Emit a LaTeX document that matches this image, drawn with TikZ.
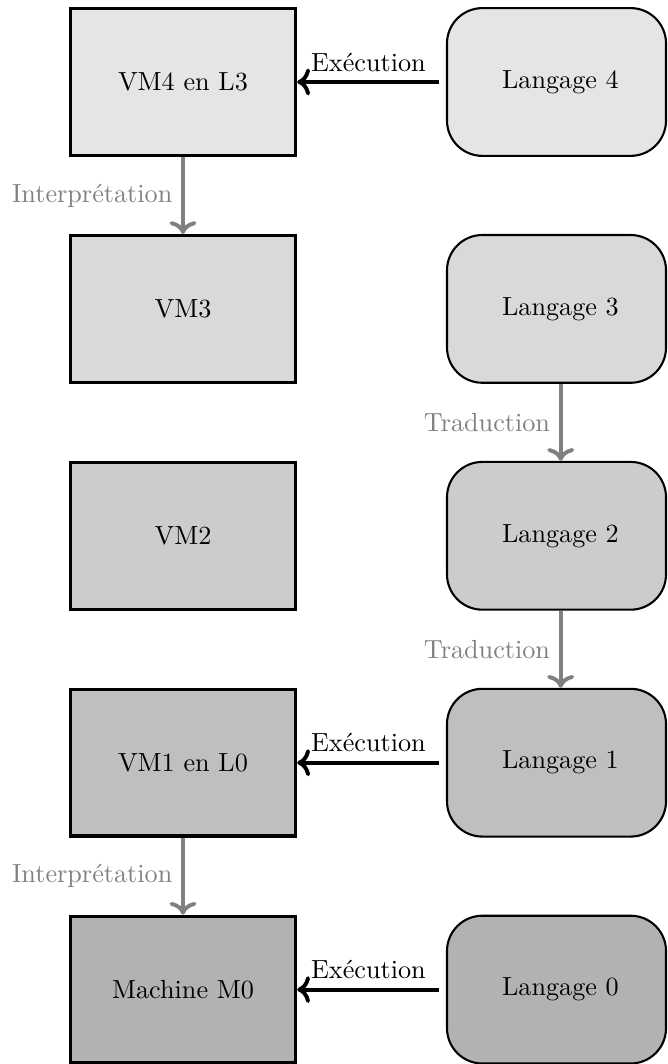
\documentclass[tikz,border=0pt]{standalone}
\usetikzlibrary{arrows.meta}
\begin{document}
\begin{tikzpicture}[x=0.38168pt, y=-0.38168pt,
  vmbox/.style={draw, line width=1.2pt, minimum width=86pt, minimum height=56pt, inner sep=0pt},
  langbox/.style={draw, line width=0.8pt, rounded corners=13.5pt, minimum width=83.6pt,
    minimum height=56.4pt, inner sep=0pt, execute at begin node=\hspace*{3pt}},
  exec/.style={->, line width=1.5pt, shorten <=2.7pt},
  derive/.style={->, line width=1.5pt, gray},
]
\useasboundingbox (0,0) rectangle (667,1064);

% virtual machines (left column)
\node[vmbox, fill=black!10] (vm4) at (183,82)    {VM4 en L3};
\node[vmbox, fill=black!15] (vm3) at (183,308.9) {VM3};
\node[vmbox, fill=black!20] (vm2) at (183,535.8) {VM2};
\node[vmbox, fill=black!25] (vm1) at (183,762.7) {VM1 en L0};
\node[vmbox, fill=black!30] (m0)  at (183,989.6) {Machine M0};

% languages (right column)
\node[langbox, fill=black!10] (l4) at (556.5,82)    {Langage 4};
\node[langbox, fill=black!15] (l3) at (556.5,308.9) {Langage 3};
\node[langbox, fill=black!20] (l2) at (556.5,535.8) {Langage 2};
\node[langbox, fill=black!25] (l1) at (556.5,762.7) {Langage 1};
\node[langbox, fill=black!30] (l0) at (556.5,989.6) {Langage 0};

% execution
\draw[exec] (l4) -- node[midway, above, xshift=-1.2pt] {Exécution} (vm4);
\draw[exec] (l1) -- node[midway, above, xshift=-1.2pt] {Exécution} (vm1);
\draw[exec] (l0) -- node[midway, above, xshift=-1.2pt] {Exécution} (m0);

% interpretation
\draw[derive] (vm4.south) -- node[midway, left] {Interprétation} (vm3.north);
\draw[derive] (vm1.south) -- node[midway, left] {Interprétation} (m0.north);

% translation
\draw[derive] ([xshift=1.6pt]l3.south) -- node[midway, left] {Traduction} ([xshift=1.6pt]l2.north);
\draw[derive] ([xshift=1.6pt]l2.south) -- node[midway, left] {Traduction} ([xshift=1.6pt]l1.north);
\end{tikzpicture}
\end{document}
